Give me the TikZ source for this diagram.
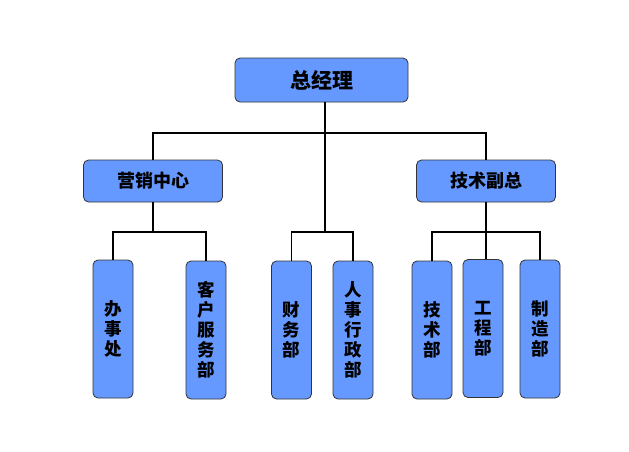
\documentclass[tikz,border=0pt]{standalone}
\usepackage{fontspec}
\newfontfamily\cjk{Noto Sans CJK SC}
\usepackage{tikz}
\usetikzlibrary{positioning,calc}

\begin{document}
\begin{tikzpicture}[x=1pt, y=-1pt,
    box/.style={draw=black!80, line width=0.8pt, fill={rgb,255:red,102;green,153;blue,255}, rounded corners=5pt, inner sep=0pt, align=center, font=\cjk\bfseries},
    head/.style={box, minimum width=173pt, minimum height=44pt, font=\cjk\bfseries\fontsize{21}{24}\selectfont},
    mid/.style={box, minimum width=139pt, minimum height=42pt, font=\cjk\bfseries\fontsize{18}{21}\selectfont},
    dept/.style={box, minimum width=40pt, minimum height=138pt, font=\cjk\bfseries\fontsize{17.5}{20}\selectfont},
    link/.style={line width=1.6pt}]
    \useasboundingbox (0,0) rectangle (629,451);

    % 顶层
    \node[head] (zjl) at (321.5,80) {总经理};

    % 第二层
    \node[mid] (yx) at (153,181) {营销中心};
    \node[mid] (js) at (486,181) {技术副总};

    % 各部门（竖排文字）
    \node[dept] (bsc) at (113,329) {办\\事\\处};
    \node[dept] (khfw) at (206,330) {客\\户\\服\\务\\部};
    \node[dept] (cw) at (291.5,330) {财\\务\\部};
    \node[dept] (rsxz) at (353,330) {人\\事\\行\\政\\部};
    \node[dept] (jsb) at (432,330) {技\\术\\部};
    \node[dept] (gc) at (483,328.5) {工\\程\\部};
    \node[dept] (zz) at (540,329) {制\\造\\部};

    % 连线的转折点
    \coordinate (j0) at (325,133);
    \coordinate (j1) at (325,232);

    % 总经理 -> 第二层
    \draw[link] (zjl.south -| j0) -- (j0);
    \draw[link] (yx.north) -- (yx.north |- j0) -- (js.north |- j0) -- (js.north);

    % 总经理 -> 财务部、人事行政部
    \draw[link] (j0) -- (j1);
    \draw[link] (cw.north) |- (j1) -| (rsxz.north);

    % 营销中心 -> 办事处、客户服务部
    \draw[link] (yx.south) -- (yx.south |- j1);
    \draw[link] (bsc.north) |- (yx.south |- j1) -| (khfw.north);

    % 技术副总 -> 技术部、工程部、制造部
    \draw[link] (js.south) -- (js.south |- j1) -- (js.south |- gc.north);
    \draw[link] (jsb.north) |- (js.south |- j1) -| (zz.north);
\end{tikzpicture}
\end{document}
